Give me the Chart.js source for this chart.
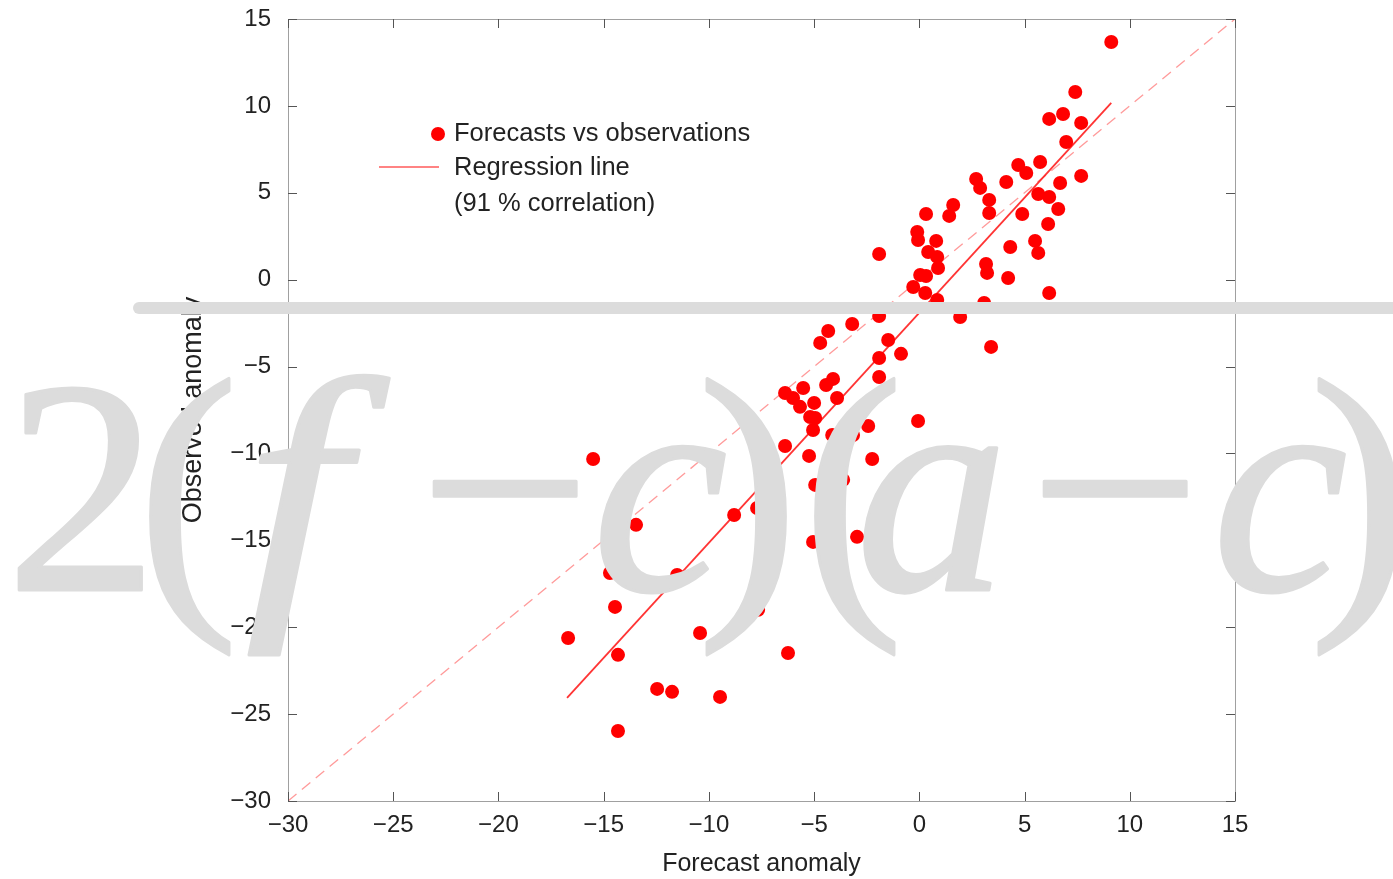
<!DOCTYPE html>
<html>
<head>
<meta charset="utf-8">
<script src="https://cdn.jsdelivr.net/npm/chart.js@4.4.0/dist/chart.umd.min.js"></script>
<style>
  html, body { margin: 0; padding: 0; background: #fff; }
  #chart { display: block; }
</style>
</head>
<body>
<canvas id="chart" width="1393" height="879"></canvas>
<script>
// forecast anomaly (x) and observed anomaly (y) for each case
var forecast = [9.12, 7.41, 6.17, 6.83, 7.69, 6.98, 5.74, 4.70, 5.08, 7.69, 2.70, 2.89, 4.13, 6.69, 5.65, 6.17,
  3.32, 6.60, 1.61, 0.32, 1.42, 3.32, 4.89, 6.12, -0.10, -0.06, 0.80, -1.91, 0.42, 0.85, 0.89, 0.04, 0.32,
  -0.29, 0.28, 0.85, 4.32, 5.50, 5.65, 3.17, 3.22, 4.22, 6.17, 3.08, 1.94, -1.91, -3.19, -1.48, -0.87, -1.91,
  -1.91, 3.41, -4.33, -4.71, -4.10, -4.43, -5.52, -6.38, -6.00, -5.00, -5.67, -3.91, -5.19, -4.95, -5.05,
  -2.43, -0.06, -7.66, -6.38, -4.14, -3.15, -7.57, -5.24, -2.24, -4.95, -3.62, -15.50, -13.46, -8.80, -7.71,
  -5.05, -2.96, -14.70, -11.51, -7.57, -14.46, -16.69, -14.32, -10.42, -7.66, -6.24, -12.46, -11.75, -9.47, -14.32];
var observed = [13.68, 10.80, 9.25, 9.53, 9.02, 7.92, 6.77, 6.60, 6.14, 5.97, 5.79, 5.28, 5.62, 5.56, 4.93, 4.76,
  4.59, 4.07, 4.30, 3.78, 3.67, 3.84, 3.78, 3.20, 2.74, 2.28, 2.23, 1.48, 1.59, 1.31, 0.67, 0.27, 0.21,
  -0.42, -0.77, -1.17, 1.88, 2.23, 1.54, 0.90, 0.39, 0.10, -0.77, -1.34, -2.15, -2.09, -2.55, -3.47, -4.27, -4.51,
  -5.60, -3.87, -2.95, -3.64, -5.71, -6.06, -6.23, -6.52, -6.81, -7.09, -7.32, -6.81, -7.90, -7.96, -8.65,
  -8.42, -8.13, -8.94, -9.57, -8.94, -8.94, -10.72, -10.14, -10.32, -11.81, -11.52, -10.32, -14.11, -13.54, -13.14,
  -15.09, -14.80, -16.88, -16.99, -16.53, -18.83, -20.62, -21.59, -20.33, -19.00, -21.48, -23.55, -23.72, -24.01, -25.97];

// regression line end points
var regressionX = [-16.74, 9.12];
var regressionY = [-24.07, 10.17];

// perfect forecast diagonal
var diagonalX = [-30, 15];
var diagonalY = [-30, 15];

var tickValues = [-30, -25, -20, -15, -10, -5, 0, 5, 10, 15];
var legendLabels = ['Forecasts vs observations', 'Regression line', '(91 % correlation)'];

function toPoints(xs, ys) {
  return xs.map(function(x, i) { return { x: x, y: ys[i] }; });
}
function minusSign(v) {
  return String(v).replace('-', '\u2212');
}

var overlay = {
  id: 'overlay',
  afterDraw: function(chart) {
    var ctx = chart.ctx, a = chart.chartArea;
    var xs = chart.scales.x, ys = chart.scales.y;
    ctx.save();

    // box round the plot
    ctx.strokeStyle = '#a0a0a0';
    ctx.lineWidth = 1;
    ctx.strokeRect(a.left + 0.5, a.top + 0.5, a.right - a.left, a.bottom - a.top);

    // inward tick marks on all four sides
    ctx.strokeStyle = '#555';
    ctx.beginPath();
    xs.ticks.forEach(function(t) {
      var px = Math.round(xs.getPixelForValue(t.value)) + 0.5;
      ctx.moveTo(px, a.bottom); ctx.lineTo(px, a.bottom - 9);
      ctx.moveTo(px, a.top); ctx.lineTo(px, a.top + 9);
    });
    ys.ticks.forEach(function(t) {
      var py = Math.round(ys.getPixelForValue(t.value)) + 0.5;
      ctx.moveTo(a.left, py); ctx.lineTo(a.left + 9, py);
      ctx.moveTo(a.right, py); ctx.lineTo(a.right - 9, py);
    });
    ctx.stroke();

    // legend inside the plot
    ctx.font = '25.5px "Liberation Sans", Arial, sans-serif';
    ctx.fillStyle = '#222';
    ctx.textBaseline = 'middle';
    ctx.textAlign = 'left';
    ctx.fillText(legendLabels[0], 454, 134);
    ctx.fillText(legendLabels[1], 454, 168);
    ctx.fillText(legendLabels[2], 454, 204);
    ctx.fillStyle = '#ff0000';
    ctx.beginPath();
    ctx.arc(438, 134, 7, 0, Math.PI * 2);
    ctx.fill();
    ctx.strokeStyle = 'rgba(255,60,60,0.85)';
    ctx.lineWidth = 1.6;
    ctx.beginPath();
    ctx.moveTo(379, 167); ctx.lineTo(439, 167);
    ctx.stroke();

    // grey bar across the picture
    ctx.strokeStyle = '#dcdcdc';
    ctx.lineWidth = 12;
    ctx.lineCap = 'round';
    ctx.beginPath();
    ctx.moveTo(139, 308); ctx.lineTo(1400, 308);
    ctx.stroke();

    // big formula over everything
    var parts = [['2', 82, false], ['(', 188, false], ['f', 296, true], ['\u2212', 505, false], ['c', 660, true],
      [')', 748, false], ['(', 853, false], ['a', 932, true], ['\u2212', 1115, false], ['c', 1280, true], [')', 1360, false]];
    ctx.fillStyle = '#dcdcdc';
    ctx.strokeStyle = '#dcdcdc';
    ctx.lineWidth = 3;
    ctx.lineJoin = 'round';
    ctx.textBaseline = 'alphabetic';
    ctx.textAlign = 'center';
    parts.forEach(function(p) {
      ctx.font = (p[2] ? 'italic ' : '') + '305px "Liberation Serif", "Times New Roman", serif';
      ctx.save();
      if (p[0] === 'f') {
        // the f in the picture is a little wider than Liberation's
        ctx.translate(p[1], 590);
        ctx.scale(1.2, 1);
        ctx.fillText(p[0], 0, 0);
        ctx.strokeText(p[0], 0, 0);
      } else {
        ctx.fillText(p[0], p[1], 590);
        ctx.strokeText(p[0], p[1], 590);
      }
      ctx.restore();
    });
    ctx.restore();
  }
};

var tickFont = { family: '"Liberation Sans", Arial, sans-serif', size: 24 };
var titleFont = { family: '"Liberation Sans", Arial, sans-serif', size: 25 };

var ctx = document.getElementById('chart').getContext('2d');
var chart = new Chart(ctx, {
  type: 'scatter',
  data: {
    datasets: [{
      label: legendLabels[0],
      data: toPoints(forecast, observed),
      backgroundColor: '#ff0000',
      borderWidth: 0,
      pointRadius: 7,
      pointHoverRadius: 7
    }, {
      label: legendLabels[1],
      data: toPoints(regressionX, regressionY),
      showLine: true,
      borderColor: 'rgba(255,30,30,0.9)',
      borderWidth: 1.8,
      pointRadius: 0
    }, {
      label: 'diagonal',
      data: toPoints(diagonalX, diagonalY),
      showLine: true,
      borderColor: 'rgba(255,120,120,0.75)',
      borderWidth: 1.3,
      borderDash: [11, 7],
      pointRadius: 0
    }]
  },
  options: {
    responsive: false,
    animation: false,
    layout: { padding: { left: 170, right: 158, top: 0, bottom: 0 } },
    plugins: { legend: { display: false }, tooltip: { enabled: false } },
    scales: {
      x: {
        type: 'linear', min: -30, max: 15,
        afterBuildTicks: function(s) { s.ticks = tickValues.map(function(v) { return { value: v }; }); },
        afterFit: function(s) { s.height = 78; },
        grid: { display: false },
        border: { display: false },
        ticks: { color: '#222', font: tickFont, padding: 2, maxRotation: 0, callback: minusSign },
        title: { display: true, text: 'Forecast anomaly', color: '#222', font: titleFont, padding: { top: 0, bottom: 0 } }
      },
      y: {
        type: 'linear', min: -30, max: 15,
        afterBuildTicks: function(s) { s.ticks = tickValues.map(function(v) { return { value: v }; }); },
        afterFit: function(s) { s.width = 118; s.paddingTop = 19; },
        grid: { display: false },
        border: { display: false },
        ticks: { color: '#222', font: tickFont, padding: 9, callback: minusSign },
        title: { display: true, text: 'Observed anomaly', color: '#222', font: { family: titleFont.family, size: 27 }, padding: { top: 7, bottom: 0 } }
      }
    }
  },
  plugins: [overlay]
});
</script>
</body>
</html>
